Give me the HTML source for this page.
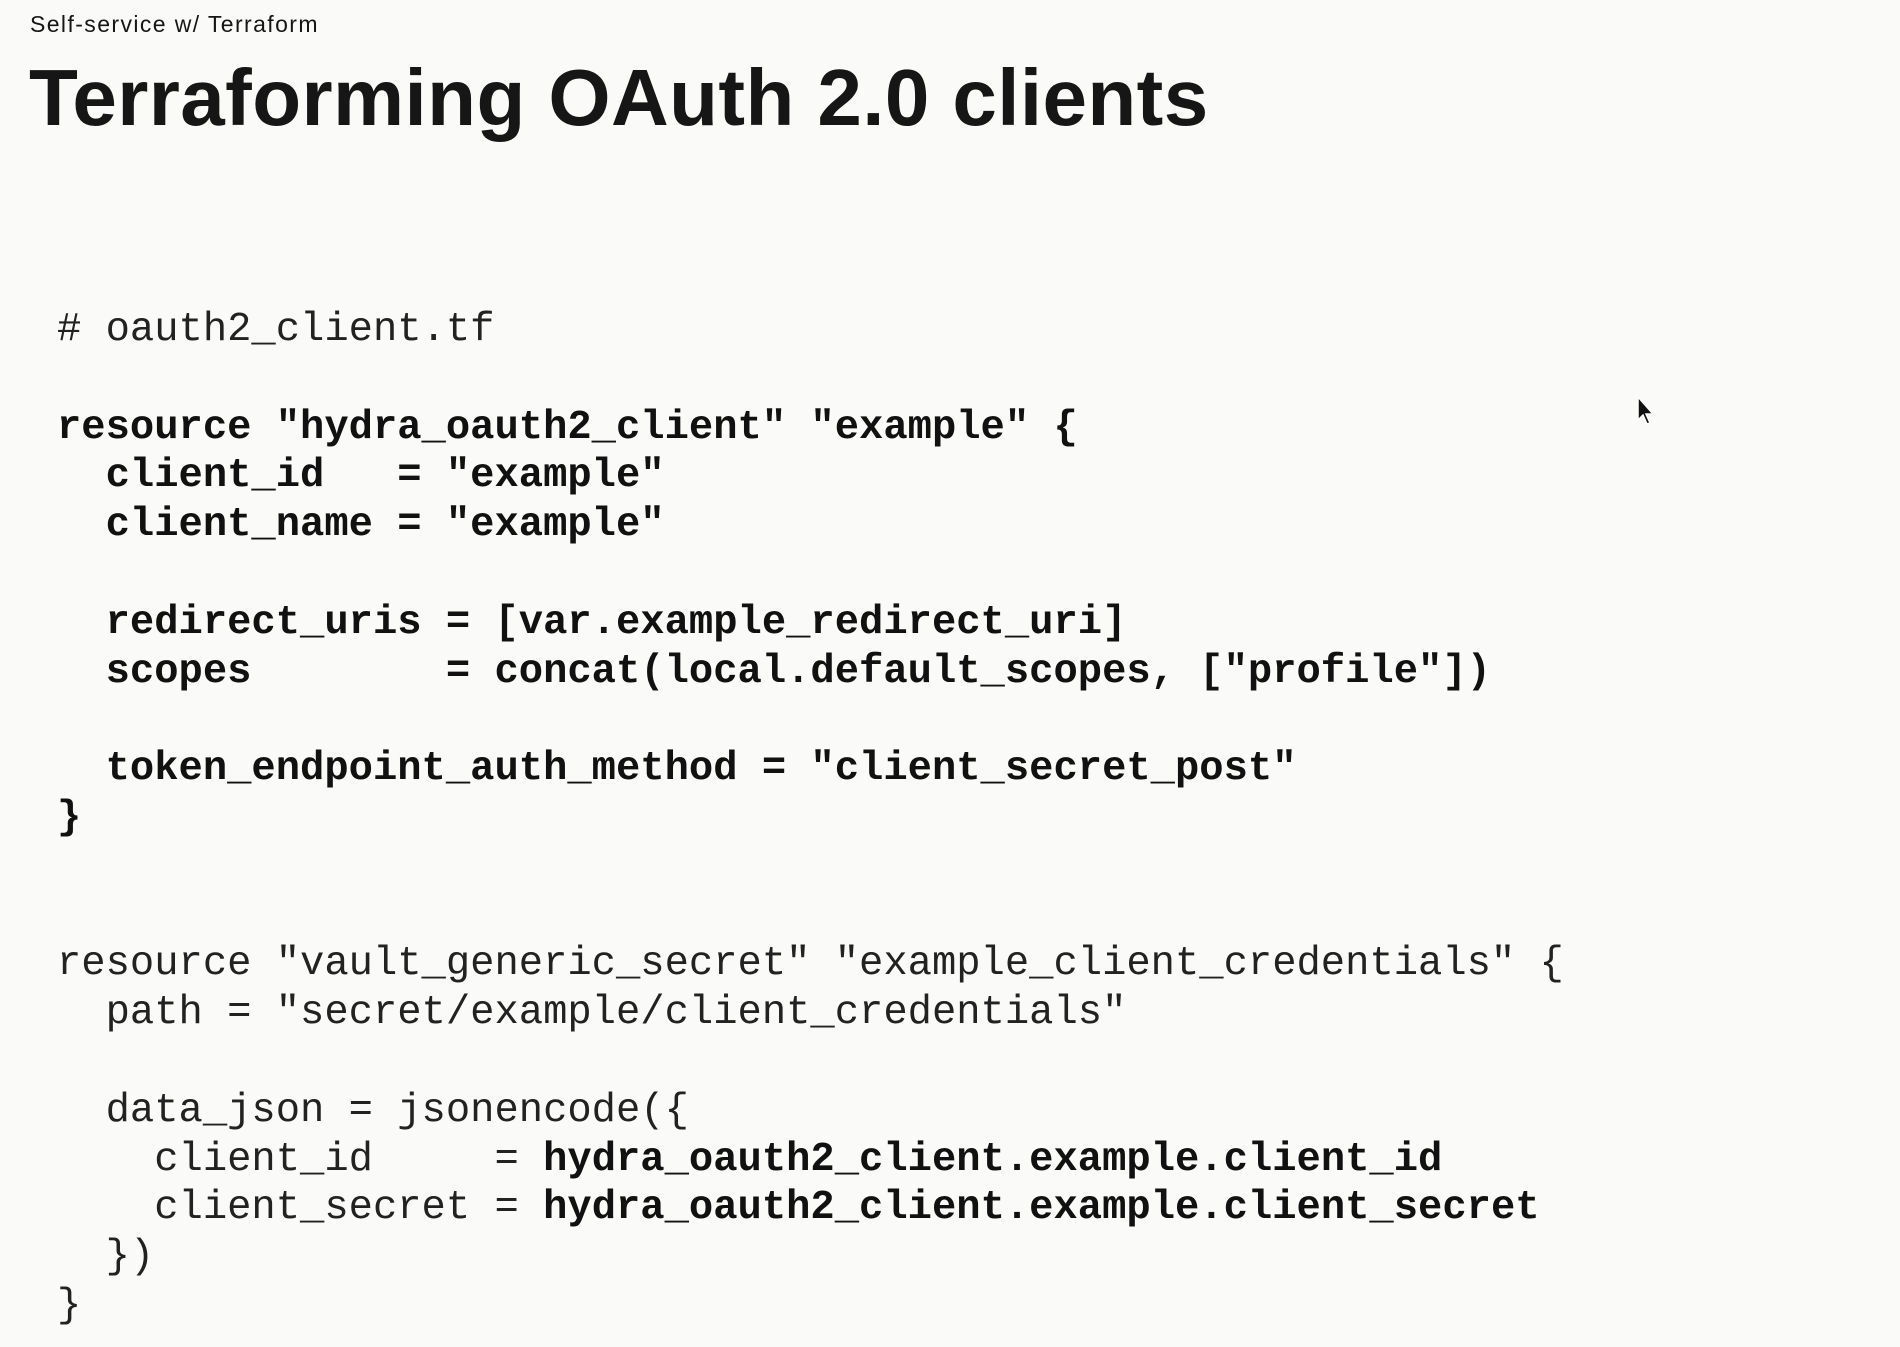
<!DOCTYPE html>
<html><head><meta charset="utf-8"><style>
html,body{margin:0;padding:0;width:1900px;height:1347px;background:#fafaf8;overflow:hidden;color:#161616}
.sub{position:absolute;left:30px;top:11px;font:23px "Liberation Sans",sans-serif;letter-spacing:1.4px}
.title{position:absolute;left:29px;top:48px;font:bold 80px "Liberation Sans",sans-serif;letter-spacing:0.4px;line-height:100px}
pre{position:absolute;left:57px;top:306px;margin:0;font:40.5px "Liberation Mono",monospace;line-height:48.8px;color:#222}
b{font-weight:bold;color:#111}
</style></head><body>
<div class="sub">Self-service w/ Terraform</div>
<div class="title">Terraforming OAuth 2.0 clients</div>
<pre># oauth2_client.tf

<b>resource "hydra_oauth2_client" "example" {
  client_id   = "example"
  client_name = "example"

  redirect_uris = [var.example_redirect_uri]
  scopes        = concat(local.default_scopes, ["profile"])

  token_endpoint_auth_method = "client_secret_post"
}</b>


resource "vault_generic_secret" "example_client_credentials" {
  path = "secret/example/client_credentials"

  data_json = jsonencode({
    client_id     = <b>hydra_oauth2_client.example.client_id</b>
    client_secret = <b>hydra_oauth2_client.example.client_secret</b>
  })
}</pre>
<svg style="position:absolute;left:1637px;top:396px" width="20" height="32" viewBox="0 0 20 32"><path d="M1 1 L1 24 L6 19 L10 28 L13 27 L9 18 L16 18 Z" fill="#111" stroke="#fff" stroke-width="1.5"/></svg>
</body></html>
